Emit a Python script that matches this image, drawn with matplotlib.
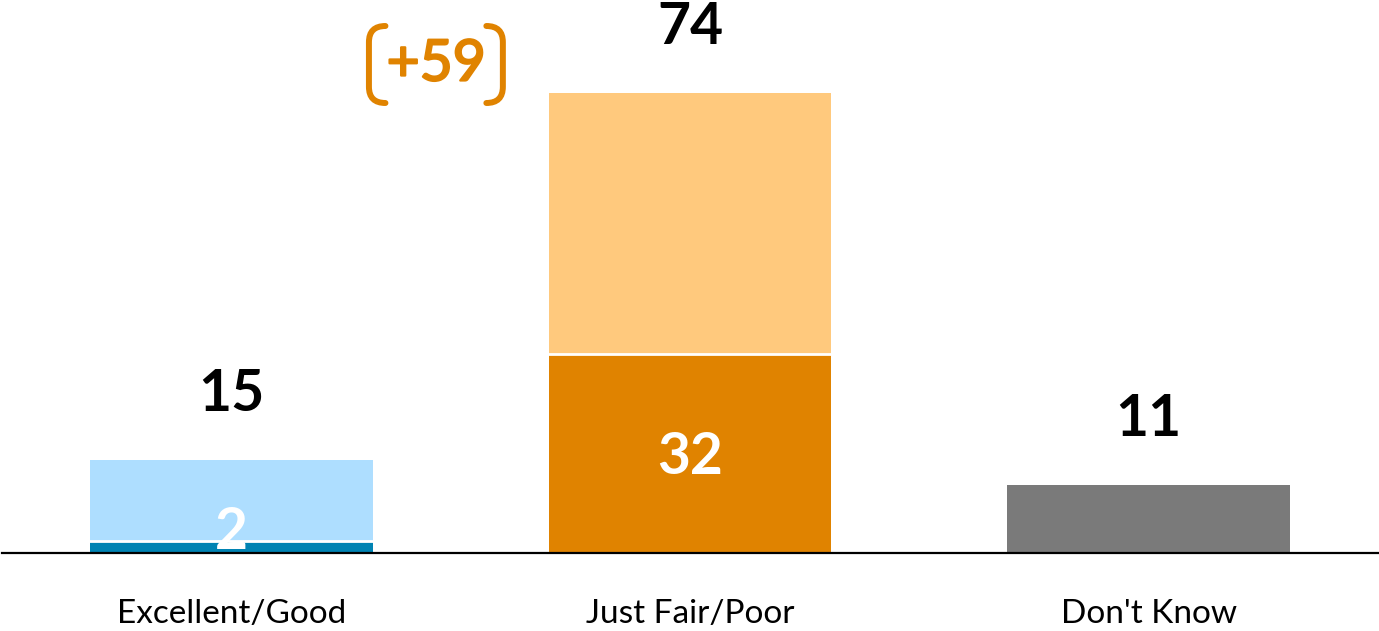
import matplotlib

matplotlib.use("Agg")
import matplotlib.pyplot as plt  # noqa: E402
import matplotlib.patheffects as pe  # noqa: E402
from matplotlib.path import Path  # noqa: E402
from matplotlib.patches import PathPatch  # noqa: E402

categories = ["Excellent/Good", "Just Fair/Poor", "Don't Know"]
strong = [2, 32, 0]          # "very" share, darker bottom segment
total = [15, 74, 11]
gap_label = "+59"

dark_cols = ["#0083B3", "#E08300", "#7A7A7A"]
light_cols = ["#AEDEFF", "#FFC97D", "#7A7A7A"]
ORANGE = "#E08300"

plt.rcParams["font.family"] = ["Lato", "DejaVu Sans"]

DPI = 100
fig = plt.figure(figsize=(13.79, 6.31), dpi=DPI)
ax = fig.add_axes([2 / 1379, 78 / 631, 1376 / 1379, 553 / 631])

x = list(range(len(categories)))
rest = [t - s for t, s in zip(total, strong)]
width = 0.617
ax.bar(x, strong, width=width, color=dark_cols, edgecolor="none")
ax.bar(x, rest, width=width, bottom=strong, color=light_cols, edgecolor="none")
# thin white separator between the stacked segments
for xi, s, r in zip(x, strong, rest):
    if s > 0 and r > 0:
        ax.plot([xi - width / 2, xi + width / 2], [s, s], color="white", lw=2, zorder=3)

ax.set_xlim(-0.5, 2.5)
ax.set_ylim(0, 553 / 6.22)

px = 72 / DPI  # points per pixel

# total labels above bars
for xi, t in zip(x, total):
    ax.annotate(str(t), (xi, t), xytext=(0, 65 * px), textcoords="offset points",
                ha="center", va="center", fontsize=41, fontweight="bold", color="black")

# inner labels for the strong segment
ax.annotate(str(strong[1]), (x[1], strong[1] / 2), xytext=(0, -4 * px),
            textcoords="offset points", ha="center", va="center",
            fontsize=41, fontweight="bold", color="white", zorder=5)
t2 = ax.annotate(str(strong[0]), (x[0], strong[0]), xytext=(0, 8 * px),
                 textcoords="offset points", ha="center", va="center",
                 fontsize=41, fontweight="bold", color="white", zorder=5,
                 annotation_clip=False)
t2.set_clip_on(False)

# "+59" gap callout with rounded brackets
cx, cy = 0.447, 553 / 6.22 - 65 / 6.22
ax.text(cx, cy, gap_label, ha="center", va="center", fontsize=41, color=ORANGE,
        path_effects=[pe.withStroke(linewidth=1.6, foreground=ORANGE)])


def bracket(x_edge, x_tip, y_top, y_bot, r):
    verts = [(x_tip, y_top), (x_edge, y_top), (x_edge, y_top - r),
             (x_edge, y_bot + r), (x_edge, y_bot), (x_tip, y_bot)]
    codes = [Path.MOVETO, Path.CURVE3, Path.CURVE3, Path.LINETO, Path.CURVE3, Path.CURVE3]
    ax.add_patch(PathPatch(Path(verts, codes), fill=False, edgecolor=ORANGE,
                           lw=4.3, capstyle="round", clip_on=False))


y_top, y_bot = (553 - 26) / 6.22, (553 - 103) / 6.22
bracket(0.300, 0.336, y_top, y_bot, 2.6)
bracket(0.592, 0.556, y_top, y_bot, 2.6)

# axis styling
for side in ("top", "right", "left"):
    ax.spines[side].set_visible(False)
ax.spines["bottom"].set_linewidth(1.6)
ax.spines["bottom"].set_zorder(4)
ax.set_yticks([])
ax.set_xticks(x)
ax.set_xticklabels(categories, fontsize=24)
ax.tick_params(axis="x", length=0, pad=33)

fig.savefig("out.png", dpi=DPI)
